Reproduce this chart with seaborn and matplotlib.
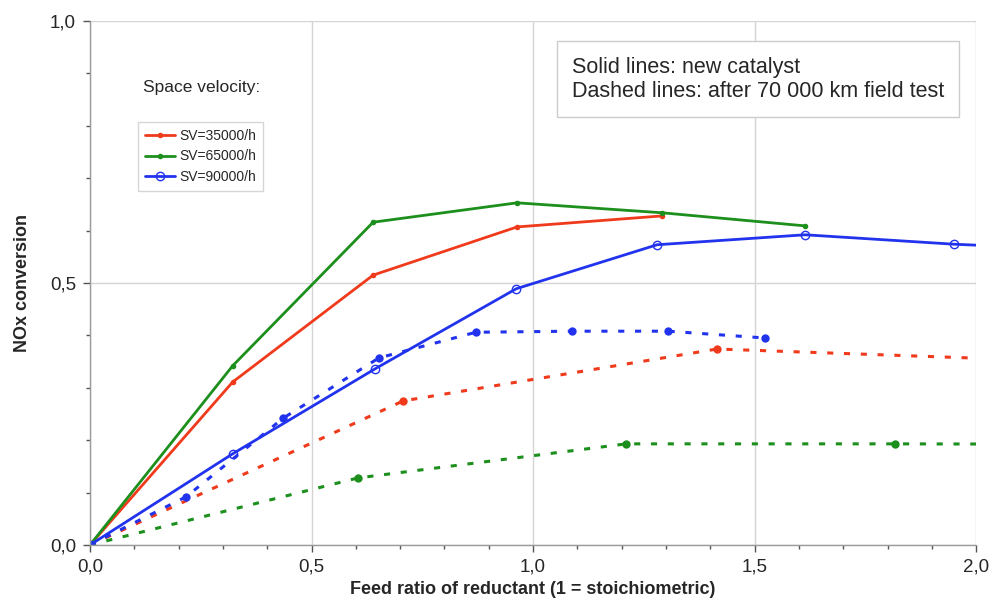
import matplotlib
matplotlib.use("Agg")
import matplotlib.pyplot as plt
import seaborn as sns
import pandas as pd
from matplotlib.ticker import MultipleLocator, FuncFormatter

# new catalyst (solid lines)
x_35_new = [0.0, 0.322, 0.639, 0.964, 1.291]
y_35_new = [0.0, 0.311, 0.515, 0.607, 0.628]
x_65_new = [0.0, 0.322, 0.639, 0.964, 1.291, 1.614]
y_65_new = [0.0, 0.342, 0.616, 0.653, 0.634, 0.609]
x_90_new = [0.0, 0.322, 0.643, 0.962, 1.280, 1.614, 1.950, 2.280]
y_90_new = [0.0, 0.174, 0.336, 0.489, 0.573, 0.592, 0.574, 0.562]

# after 70 000 km field test (dashed lines)
x_35_aged = [0.0, 0.707, 1.415, 2.120]
y_35_aged = [0.0, 0.275, 0.374, 0.353]
x_65_aged = [0.0, 0.605, 1.210, 1.817, 2.420]
y_65_aged = [0.0, 0.128, 0.193, 0.193, 0.192]
x_90_aged = [0.0, 0.217, 0.436, 0.652, 0.871, 1.088, 1.305, 1.524]
y_90_aged = [0.0, 0.092, 0.242, 0.357, 0.406, 0.408, 0.408, 0.395]

labels = ["SV=35000/h", "SV=65000/h", "SV=90000/h"]
colors = ["#f03a1c", "#1c8f1c", "#2233ee"]

sns.set_style("white")
plt.rcParams["font.family"] = ["Liberation Sans", "DejaVu Sans"]

fig = plt.figure(figsize=(9.89, 6), dpi=100)
ax = fig.add_axes([0.091, 0.0917, 0.896, 0.8733])

aged = [(x_35_aged, y_35_aged), (x_65_aged, y_65_aged), (x_90_aged, y_90_aged)]
for (xs, ys), c in zip(aged, colors):
    df = pd.DataFrame({"x": xs, "y": ys})
    sns.lineplot(data=df, x="x", y="y", ax=ax, sort=False, color=c, lw=2.2,
                 dashes=False, marker="o", markersize=6, markeredgewidth=0,
                 legend=False, clip_on=True)
    ax.lines[-1].set_dashes([2, 3.5])

new = [(x_35_new, y_35_new), (x_65_new, y_65_new), (x_90_new, y_90_new)]
for (xs, ys), c, lab in zip(new, colors, labels):
    df = pd.DataFrame({"x": xs, "y": ys})
    if lab == "SV=90000/h":
        sns.lineplot(data=df, x="x", y="y", ax=ax, sort=False, color=c, lw=2,
                     marker="o", markersize=6, markerfacecolor="none",
                     markeredgecolor=c, markeredgewidth=1, label=lab)
    else:
        sns.lineplot(data=df, x="x", y="y", ax=ax, sort=False, color=c, lw=2,
                     marker="o", markersize=4, markeredgewidth=0, label=lab)

ax.set_xlim(0, 2.0)
ax.set_ylim(0, 1.0)
ax.xaxis.set_major_locator(MultipleLocator(0.5))
ax.xaxis.set_minor_locator(MultipleLocator(0.1))
ax.yaxis.set_major_locator(MultipleLocator(0.5))
ax.yaxis.set_minor_locator(MultipleLocator(0.1))
fmt = FuncFormatter(lambda v, p: f"{v:.1f}".replace(".", ","))
ax.xaxis.set_major_formatter(fmt)
ax.yaxis.set_major_formatter(fmt)
ax.grid(True, which="major", color="#d4d4d4", lw=1)
ax.set_axisbelow(True)
for s in ["top", "right"]:
    ax.spines[s].set_visible(False)
for s in ["left", "bottom"]:
    ax.spines[s].set_color("#9a9a9a")
    ax.spines[s].set_linewidth(1)
ax.tick_params(which="major", length=5, width=1, color="#555555", labelsize=13.5, pad=5, bottom=True, left=True)
ax.tick_params(which="minor", length=3, width=1, color="#555555", bottom=True, left=True)

ax.set_xlabel("Feed ratio of reductant (1 = stoichiometric)", fontsize=13, fontweight="bold", labelpad=4)
ax.set_ylabel("NOx conversion", fontsize=13, fontweight="bold", labelpad=14)

leg = ax.legend(loc="upper left", bbox_to_anchor=(0.046, 0.82), fontsize=10, frameon=True,
                fancybox=False, handlelength=2.2, handletextpad=0.3, borderpad=0.5, labelspacing=0.45)
leg.get_frame().set_edgecolor("#cccccc")
leg.get_frame().set_linewidth(1)

ax.text(0.060, 0.873, "Space velocity:", transform=ax.transAxes, fontsize=12.5, va="center")
ax.text(0.5435, 0.889, "Solid lines: new catalyst\nDashed lines: after 70 000 km field test",
        transform=ax.transAxes, fontsize=15.5, va="center", linespacing=1.2,
        bbox=dict(boxstyle="square,pad=0.7", fc="white", ec="#cccccc", lw=1))

fig.savefig("out.png", dpi=100)
